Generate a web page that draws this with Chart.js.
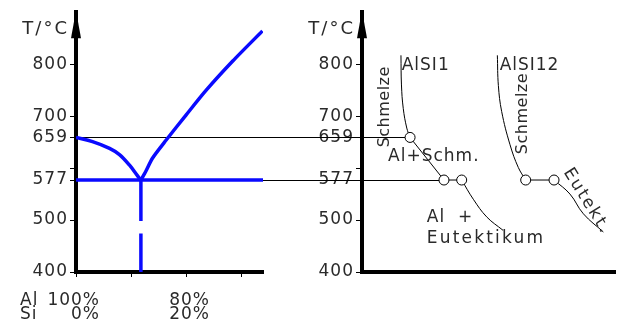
<!DOCTYPE html>
<html>
<head>
<meta charset="utf-8">
<script src="https://cdn.jsdelivr.net/npm/chart.js@4/dist/chart.umd.min.js"></script>
<style>
  html, body { margin: 0; padding: 0; background: #fff; }
  #wrap { position: relative; width: 624px; height: 320px; overflow: hidden; background: #fff; }
  #wrap canvas { position: absolute; left: 0; top: 0; }
  #phase { z-index: 2; }
  #cool { z-index: 1; }
</style>
</head>
<body>
<div id="wrap">
  <canvas id="cool" width="624" height="320"></canvas>
  <canvas id="phase" width="624" height="320"></canvas>
</div>
<script>
// ---- temperature axis (shared by both panels), °C ----
const T_MIN = 400;
const T_MAX = 900;
const tempTicks = [400, 500, 577, 600, 659, 700, 800];
const tempLabels = { 400: '400', 500: '500', 577: '577', 659: '659', 700: '700', 800: '800' };
const T_MELT_AL = 659;
const T_EUTECTIC = 577;

// ---- phase diagram Al–Si: Si content in % ----
const SI_MAX = 34;
const SI_EUTECTIC = 11.8;
const siTicks = [0, 10, 20, 30];
const siLabels = { 0: ['100%', '0%'], 20: ['80%', '20%'] };
const siRowHeads = ['Al', 'Si'];
const liquidusAl = [[0, 659], [3.0, 651], [6.1, 638], [7.9, 626], [9.7, 606], [11.2, 585], [11.8, 577]];
const liquidusSi = [[11.8, 577], [12.7, 594], [13.9, 619], [16.4, 654], [20.0, 702], [23.6, 749], [28.5, 806], [33.9, 864]];
const eutecticLine = [[0, 577], [34, 577]];
const eutecticDrop = [[11.8, 577], [11.8, 498], [11.8, null], [11.8, 474], [11.8, 400]];

// ---- cooling curves: time (arbitrary units) vs temperature ----
const alsi1Melt   = [[15.4, 817], [15.6, 760], [16.3, 715], [17.7, 677], [19.0, 659]];
const alsi1Mushy  = [[19.0, 659], [32.4, 577], [39.4, 577]];
const alsi1Solid  = [[39.4, 577], [44.0, 540], [49.3, 506], [55.8, 480]];
const alsi12Melt  = [[53.5, 817], [53.9, 759], [55.2, 709], [58.5, 645], [61.8, 601], [64.7, 577]];
const alsi12Arrest = [[64.7, 577], [75.9, 577]];
const alsi12Solid = [[75.9, 577], [82.2, 550], [87.5, 512], [95.4, 477]];
const arrestPoints = [[19.0, 659], [32.4, 577], [39.4, 577], [64.7, 577], [75.9, 577]];
// projection of the phase-diagram temperatures onto the AlSi1 curve
const projections = [[T_MELT_AL, 19.0], [T_EUTECTIC, 32.4]];

// labels inside the cooling-curve panel (anchored in time / temperature)
const notes = [
  { text: 'AlSI1',      t: 15.7, T: 798, align: 'left' },
  { text: 'AlSI12',     t: 54.4, T: 798, align: 'left' },
  { text: 'Schmelze',   t: 9.1,  T: 718, rot: -90, size: 16, spacing: 0.5 },
  { text: 'Schmelze',   t: 63.4, T: 705, rot: -90, size: 16, spacing: 0.5 },
  { text: 'Al+Schm.',   t: 10.3, T: 623, align: 'left' },
  { text: 'Al  +',      t: 25.6, T: 505, align: 'left' },
  { text: 'Eutektikum', t: 25.6, T: 464, align: 'left', spacing: 2.2 },
  { text: 'Eutekt.',    t: 88.8, T: 536, rot: 58, spacing: 2 }
];

const FONT = "'DejaVu Sans', sans-serif";
const INK = '#2a2a2a';
const BLUE = '#0a0aff';
const X_TICK_LEN = 5;
const X_LABEL_PAD = 17;
const X_LINE = 14;

const pts = arr => arr.map(([x, y]) => ({ x, y }));

// thin spacing for all text, like a plotter font
const spacing = {
  id: 'spacing',
  beforeDraw(chart) { chart.ctx.letterSpacing = '1px'; }
};

// arrow head on top of the temperature axis and the "T/°C" caption
const axisHead = {
  id: 'axisHead',
  afterDraw(chart) {
    const { ctx, chartArea } = chart;
    const ys = chart.scales.y;
    const x = Math.round(ys.right);
    const top = chartArea.top;
    ctx.save();
    ctx.fillStyle = '#000';
    ctx.beginPath();
    ctx.moveTo(x, top - 1.5);
    ctx.lineTo(x + 5, top + 26);
    ctx.lineTo(x - 5, top + 26);
    ctx.closePath();
    ctx.fill();
    ctx.letterSpacing = '2px';
    ctx.font = `18px ${FONT}`;
    ctx.fillStyle = INK;
    ctx.textAlign = 'right';
    ctx.textBaseline = 'middle';
    ctx.fillText('T/°C', x - 7, top + 17.5);
    ctx.restore();
  }
};

// "Al" / "Si" row heads in front of the composition labels
const rowHeads = {
  id: 'rowHeads',
  afterDraw(chart) {
    const { ctx } = chart;
    const xs = chart.scales.x;
    const first = xs.top + X_TICK_LEN + X_LABEL_PAD + X_LINE / 2;
    ctx.save();
    ctx.letterSpacing = '1px';
    ctx.font = `17px ${FONT}`;
    ctx.fillStyle = INK;
    ctx.textAlign = 'left';
    ctx.textBaseline = 'middle';
    siRowHeads.forEach((s, i) => ctx.fillText(s, xs.left - 56, first + i * X_LINE));
    ctx.restore();
  }
};

// horizontal projection lines from the phase diagram to the cooling curve
const projection = {
  id: 'projection',
  beforeDatasetsDraw(chart) {
    const phase = Chart.getChart('phase');
    if (!phase) return;
    const x0 = phase.scales.x.getPixelForValue(0);
    const { ctx } = chart;
    const { x, y } = chart.scales;
    ctx.save();
    ctx.strokeStyle = '#000';
    ctx.lineWidth = 1;
    for (const [T, t] of projections) {
      const py = Math.round(y.getPixelForValue(T)) + 0.5;
      ctx.beginPath();
      ctx.moveTo(x0, py);
      ctx.lineTo(x.getPixelForValue(t), py);
      ctx.stroke();
    }
    ctx.restore();
  }
};

// text labels of the cooling-curve panel
const noteText = {
  id: 'noteText',
  afterDatasetsDraw(chart) {
    const { ctx } = chart;
    const { x, y } = chart.scales;
    for (const n of notes) {
      ctx.save();
      ctx.translate(x.getPixelForValue(n.t), y.getPixelForValue(n.T));
      if (n.rot) ctx.rotate(n.rot * Math.PI / 180);
      ctx.letterSpacing = (n.spacing ?? 1) + 'px';
      ctx.font = `${n.size || 17}px ${FONT}`;
      ctx.fillStyle = INK;
      ctx.textAlign = n.align || 'center';
      ctx.textBaseline = 'middle';
      ctx.fillText(n.text, 0, 0);
      ctx.restore();
    }
  }
};

function tempAxis(width) {
  return {
    type: 'linear',
    min: T_MIN,
    max: T_MAX,
    afterBuildTicks: s => { s.ticks = tempTicks.map(v => ({ value: v })); },
    afterFit: s => { s.width = width; },
    grid: { drawOnChartArea: false, drawTicks: true, tickLength: 6, color: '#000', lineWidth: 1 },
    border: { display: true, color: '#000', width: 4 },
    ticks: {
      autoSkip: false,
      padding: 2,
      color: INK,
      font: { family: FONT, size: 17 },
      callback: v => tempLabels[v] ?? ''
    }
  };
}

const common = {
  responsive: false,
  animation: false,
  devicePixelRatio: 1,
  events: [],
  plugins: { legend: { display: false }, tooltip: { enabled: false } },
  elements: { point: { radius: 0 } }
};

const blueLine = (data, tension) => ({
  data: pts(data),
  borderColor: BLUE,
  borderWidth: 3.5,
  tension,
  pointRadius: 0,
  fill: false,
  borderCapStyle: 'butt'
});

// ---- left panel: Al–Si phase diagram ----
new Chart(document.getElementById('phase'), {
  type: 'line',
  data: {
    datasets: [
      blueLine(liquidusAl, 0.35),
      blueLine(liquidusSi, 0.25),
      blueLine(eutecticLine, 0),
      blueLine(eutecticDrop, 0)
    ]
  },
  options: {
    ...common,
    layout: { padding: { left: 0, right: 361, top: 9.5, bottom: 0 } },
    scales: {
      x: {
        type: 'linear',
        min: 0,
        max: SI_MAX,
        afterBuildTicks: s => { s.ticks = siTicks.map(v => ({ value: v })); },
        afterFit: s => { s.height = 48; },
        grid: { drawOnChartArea: false, drawTicks: true, tickLength: X_TICK_LEN, color: '#000', lineWidth: 1 },
        border: { display: true, color: '#000', width: 4 },
        ticks: {
          autoSkip: false,
          maxRotation: 0,
          align: 'end',
          labelOffset: 24,
          padding: X_LABEL_PAD,
          color: INK,
          font: { family: FONT, size: 17, lineHeight: X_LINE / 17 },
          callback: v => siLabels[v] ?? ''
        }
      },
      y: tempAxis(76)
    }
  },
  plugins: [spacing, axisHead, rowHeads]
});

// ---- right panel: cooling curves ----
const thin = (data, tension) => ({
  data: pts(data),
  borderColor: '#000',
  borderWidth: 1,
  tension,
  pointRadius: 0,
  fill: false
});

new Chart(document.getElementById('cool'), {
  type: 'line',
  data: {
    datasets: [
      {
        data: pts(arrestPoints),
        showLine: false,
        pointRadius: 5,
        pointStyle: 'circle',
        pointBorderWidth: 1,
        pointBorderColor: '#000',
        pointBackgroundColor: '#fff',
        order: -1
      },
      thin(alsi1Melt, 0.4),
      thin(alsi1Mushy, 0),
      thin(alsi1Solid, 0.4),
      thin(alsi12Melt, 0.4),
      thin(alsi12Arrest, 0),
      thin(alsi12Solid, 0.4)
    ]
  },
  options: {
    ...common,
    layout: { padding: { left: 300, right: 9, top: 9.5, bottom: 0 } },
    scales: {
      x: {
        type: 'linear',
        min: 0,
        max: 100,
        afterFit: s => { s.height = 48; },
        grid: { drawOnChartArea: false, drawTicks: false },
        border: { display: true, color: '#000', width: 4 },
        ticks: { display: false }
      },
      y: tempAxis(62)
    }
  },
  plugins: [spacing, axisHead, projection, noteText]
});
</script>
</body>
</html>
